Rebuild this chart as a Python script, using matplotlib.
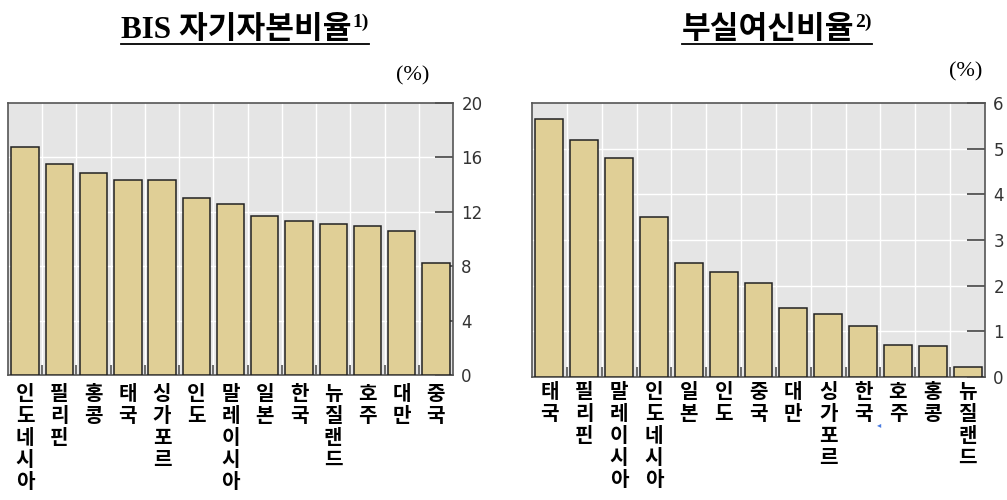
import matplotlib
matplotlib.use("Agg")
import matplotlib.pyplot as plt
import numpy as np
from matplotlib.lines import Line2D

# BIS 자기자본비율 (%)
bis_countries = ["인도네시아", "필리핀", "홍콩", "태국", "싱가포르", "인도", "말레이시아",
                 "일본", "한국", "뉴질랜드", "호주", "대만", "중국"]
bis_values = [16.8, 15.5, 14.85, 14.35, 14.35, 13.05, 12.6, 11.7, 11.35, 11.1, 10.95, 10.6, 8.2]
bis_ticks = [0, 4, 8, 12, 16, 20]

# 부실여신비율 (%)
npl_countries = ["태국", "필리핀", "말레이시아", "인도네시아", "일본", "인도", "중국",
                 "대만", "싱가포르", "한국", "호주", "홍콩", "뉴질랜드"]
npl_values = [5.64, 5.2, 4.8, 3.5, 2.5, 2.29, 2.05, 1.51, 1.39, 1.11, 0.7, 0.67, 0.22]
npl_ticks = [0, 1, 2, 3, 4, 5, 6]

W, H = 1007, 500
fig = plt.figure(figsize=(W / 100, H / 100), dpi=100)
fig.patch.set_facecolor("white")

KR = ["Noto Sans CJK KR", "DejaVu Sans"]
TITLE_FONT = ["Liberation Serif", "Noto Sans CJK KR"]


def draw_panel(rect, names, values, ticks, label_pad):
    x0, y0, x1, y1 = rect
    ax = fig.add_axes([x0 / W, 1 - y1 / H, (x1 - x0) / W, (y1 - y0) / H])
    ax.set_facecolor("#e5e5e5")
    n = len(names)
    x = np.arange(n)
    ax.bar(x, values, width=0.8, color="#e0cf96", edgecolor="#222222",
           linewidth=1.1, zorder=3)
    ax.set_xlim(-0.5, n - 0.5)
    ax.set_ylim(ticks[0], ticks[-1])

    # white grid: horizontal at value ticks, vertical between categories
    for t in ticks[1:-1]:
        ax.axhline(t, color="white", lw=1.0, zorder=1)
    for b in np.arange(n - 1) + 0.5:
        ax.axvline(b, color="white", lw=1.0, zorder=1)

    ax.yaxis.tick_right()
    ax.set_yticks(ticks)
    ax.set_yticklabels([str(t) for t in ticks], family="DejaVu Sans",
                       fontsize=12, color="#333333")
    ax.tick_params(axis="y", direction="in", length=13, width=1.2,
                   color="#444444", pad=6, right=True, left=False)

    ax.set_xticks(x)
    ax.set_xticklabels(["\n".join(s) for s in names], family=KR,
                       fontsize=14.5, fontweight="bold", linespacing=1.05)
    ax.set_xticks(np.arange(n - 1) + 0.5, minor=True)
    ax.tick_params(axis="x", which="major", length=0, pad=label_pad)
    ax.tick_params(axis="x", which="minor", direction="in", length=7,
                   width=1.2, color="#555555")

    for sp in ax.spines.values():
        sp.set_color("#555555")
        sp.set_linewidth(1.2)
    return ax


def draw_title(cx, text, sup):
    base = 1 - 38 / H
    t = fig.text(cx / W, base, text, family=TITLE_FONT, fontsize=22.5,
                 fontweight="bold", ha="center", va="baseline")
    fig.canvas.draw()
    bb = t.get_window_extent()
    s = fig.text(bb.x1 / W + 0.001, base + 11 / H, sup, family="Liberation Serif",
                 fontsize=14, fontweight="bold", ha="left", va="baseline")
    fig.canvas.draw()
    sb = s.get_window_extent()
    fig.add_artist(Line2D([bb.x0 / W, sb.x1 / W], [1 - 44 / H, 1 - 44 / H],
                          color="black", lw=1.3))


draw_panel((8, 103, 453, 375), bis_countries, bis_values, bis_ticks, 6)
draw_panel((532, 103, 985, 377), npl_countries, npl_values, npl_ticks, 3)

draw_title(236, "BIS 자기자본비율", "1)")
draw_title(768, "부실여신비율", "2)")

fig.text(413 / W, 1 - 76 / H, "(%)", family="Liberation Serif", fontsize=16,
         ha="center", va="center")
fig.text(966 / W, 1 - 72 / H, "(%)", family="Liberation Serif", fontsize=16,
         ha="center", va="center")

# small blue marker beside 한국 label
fig.text(879 / W, 1 - 425 / H, "◂", color="#4a7be0", fontsize=6,
         family="DejaVu Sans", ha="center", va="center")

fig.savefig("out.png", dpi=100)
